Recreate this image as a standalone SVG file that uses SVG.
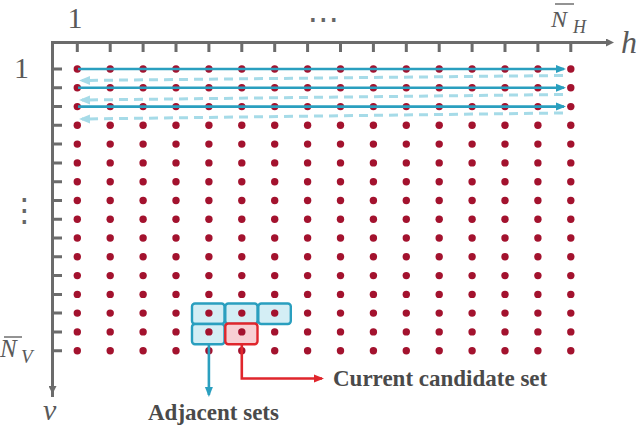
<svg xmlns="http://www.w3.org/2000/svg" width="640" height="428" viewBox="0 0 640 428">
<defs>
<style>
.ax{stroke:#6b6b6b;stroke-width:3;fill:none}
.tk{stroke:#6b6b6b;stroke-width:3}
.dot{fill:#a3122e}
.lab{font-family:"Liberation Serif",serif;fill:#595959}
.sym{font-family:"DejaVu Sans",sans-serif;fill:#666666}
.it{font-style:italic}
.bt{font-family:"Liberation Serif",serif;font-weight:bold;fill:#4a4a4a;font-size:23px}
.sol{stroke:#2a9fbf;stroke-width:2.6;fill:none}
.dsh{stroke:#a6dbe8;stroke-width:3;fill:none;stroke-dasharray:9 6}
.adj{fill:#d4eef5;stroke:#2a9fbf;stroke-width:2.4}
.cur{fill:#f8cfd3;stroke:#e0262c;stroke-width:2.4}
</style>
<marker id="ag" markerWidth="8" markerHeight="8" refX="4" refY="4" orient="auto" markerUnits="userSpaceOnUse" viewBox="0 0 8 8"><path d="M0,0 L8,4 L0,8 Z" fill="#6b6b6b"/></marker>
<marker id="ab" markerWidth="10" markerHeight="10" refX="8" refY="5" orient="auto" markerUnits="userSpaceOnUse" viewBox="0 0 10 10"><path d="M0,1 L10,5 L0,9 Z" fill="#2a9fbf"/></marker>
<marker id="al" markerWidth="11" markerHeight="11" refX="8" refY="5.5" orient="auto" markerUnits="userSpaceOnUse" viewBox="0 0 11 11"><path d="M0,1 L11,5.5 L0,10 Z" fill="#a6dbe8"/></marker>
<marker id="ar" markerWidth="10" markerHeight="10" refX="8" refY="5" orient="auto" markerUnits="userSpaceOnUse" viewBox="0 0 10 10"><path d="M0,1 L10,5 L0,9 Z" fill="#e0262c"/></marker>
</defs>
<rect width="640" height="428" fill="#ffffff"/>

<g id="axes">
<path class="ax" d="M52.5,397 L52.5,42.5 L610,42.5" marker-end="url(#ag)"/>
<path class="ax" d="M52.5,44 L52.5,390" marker-end="url(#ag)"/>
<g class="tk">
<path d="M77.3,43 V52 M110.2,43 V52 M143.1,43 V52 M176,43 V52 M208.9,43 V52 M241.8,43 V52 M274.7,43 V52 M307.6,43 V52 M340.5,43 V52 M373.4,43 V52 M406.3,43 V52 M439.2,43 V52 M472.1,43 V52 M505,43 V52 M537.9,43 V52 M570.8,43 V52"/>
<path d="M52,69 H62 M52,87.8 H62 M52,106.6 H62 M52,125.3 H62 M52,144.1 H62 M52,162.9 H62 M52,181.7 H62 M52,200.5 H62 M52,219.2 H62 M52,238 H62 M52,256.8 H62 M52,275.6 H62 M52,294.4 H62 M52,313.1 H62 M52,331.9 H62 M52,350.7 H62"/>
</g>
<text class="lab" x="75" y="28" font-size="30" text-anchor="middle">1</text>
<text class="lab" x="21.5" y="78" font-size="30" text-anchor="middle">1</text>
<text class="sym" x="323.5" y="30" font-size="32" text-anchor="middle">⋯</text>
<text class="sym" x="24.5" y="221" font-size="32" text-anchor="middle">⋮</text>
<text class="lab it" x="551" y="27" font-size="24">N</text>
<line x1="555" y1="4" x2="574" y2="4" stroke="#595959" stroke-width="1.3"/>
<text class="lab it" x="573" y="33" font-size="18">H</text>
<text class="lab it" x="621" y="53" font-size="32">h</text>
<text class="lab it" x="0" y="357" font-size="25">N</text>
<line x1="4" y1="337" x2="22" y2="337" stroke="#595959" stroke-width="1.3"/>
<text class="lab it" x="21" y="363" font-size="19">V</text>
<text class="lab it" x="43" y="420" font-size="30">v</text>
</g>

<g id="sets">
<rect class="adj" x="192" y="303.5" width="32.5" height="20.5" rx="3"/>
<rect class="adj" x="225.3" y="303.5" width="32.2" height="20.5" rx="3"/>
<rect class="adj" x="258.3" y="303.5" width="32.5" height="20.5" rx="3"/>
<rect class="adj" x="192" y="324" width="32.5" height="20.3" rx="3"/>
<rect class="cur" x="225.3" y="323.5" width="32.2" height="20.8" rx="3"/>
</g>

<g id="grid">
<g class="dot">
<circle cx="77.3" cy="69" r="3.7"/><circle cx="110.2" cy="69" r="3.7"/><circle cx="143.1" cy="69" r="3.7"/><circle cx="176" cy="69" r="3.7"/><circle cx="208.9" cy="69" r="3.7"/><circle cx="241.8" cy="69" r="3.7"/><circle cx="274.7" cy="69" r="3.7"/><circle cx="307.6" cy="69" r="3.7"/><circle cx="340.5" cy="69" r="3.7"/><circle cx="373.4" cy="69" r="3.7"/><circle cx="406.3" cy="69" r="3.7"/><circle cx="439.2" cy="69" r="3.7"/><circle cx="472.1" cy="69" r="3.7"/><circle cx="505" cy="69" r="3.7"/><circle cx="537.9" cy="69" r="3.7"/><circle cx="570.8" cy="69" r="3.7"/>
<circle cx="77.3" cy="87.8" r="3.7"/><circle cx="110.2" cy="87.8" r="3.7"/><circle cx="143.1" cy="87.8" r="3.7"/><circle cx="176" cy="87.8" r="3.7"/><circle cx="208.9" cy="87.8" r="3.7"/><circle cx="241.8" cy="87.8" r="3.7"/><circle cx="274.7" cy="87.8" r="3.7"/><circle cx="307.6" cy="87.8" r="3.7"/><circle cx="340.5" cy="87.8" r="3.7"/><circle cx="373.4" cy="87.8" r="3.7"/><circle cx="406.3" cy="87.8" r="3.7"/><circle cx="439.2" cy="87.8" r="3.7"/><circle cx="472.1" cy="87.8" r="3.7"/><circle cx="505" cy="87.8" r="3.7"/><circle cx="537.9" cy="87.8" r="3.7"/><circle cx="570.8" cy="87.8" r="3.7"/>
<circle cx="77.3" cy="106.6" r="3.7"/><circle cx="110.2" cy="106.6" r="3.7"/><circle cx="143.1" cy="106.6" r="3.7"/><circle cx="176" cy="106.6" r="3.7"/><circle cx="208.9" cy="106.6" r="3.7"/><circle cx="241.8" cy="106.6" r="3.7"/><circle cx="274.7" cy="106.6" r="3.7"/><circle cx="307.6" cy="106.6" r="3.7"/><circle cx="340.5" cy="106.6" r="3.7"/><circle cx="373.4" cy="106.6" r="3.7"/><circle cx="406.3" cy="106.6" r="3.7"/><circle cx="439.2" cy="106.6" r="3.7"/><circle cx="472.1" cy="106.6" r="3.7"/><circle cx="505" cy="106.6" r="3.7"/><circle cx="537.9" cy="106.6" r="3.7"/><circle cx="570.8" cy="106.6" r="3.7"/>
<circle cx="77.3" cy="125.3" r="3.7"/><circle cx="110.2" cy="125.3" r="3.7"/><circle cx="143.1" cy="125.3" r="3.7"/><circle cx="176" cy="125.3" r="3.7"/><circle cx="208.9" cy="125.3" r="3.7"/><circle cx="241.8" cy="125.3" r="3.7"/><circle cx="274.7" cy="125.3" r="3.7"/><circle cx="307.6" cy="125.3" r="3.7"/><circle cx="340.5" cy="125.3" r="3.7"/><circle cx="373.4" cy="125.3" r="3.7"/><circle cx="406.3" cy="125.3" r="3.7"/><circle cx="439.2" cy="125.3" r="3.7"/><circle cx="472.1" cy="125.3" r="3.7"/><circle cx="505" cy="125.3" r="3.7"/><circle cx="537.9" cy="125.3" r="3.7"/><circle cx="570.8" cy="125.3" r="3.7"/>
<circle cx="77.3" cy="144.1" r="3.7"/><circle cx="110.2" cy="144.1" r="3.7"/><circle cx="143.1" cy="144.1" r="3.7"/><circle cx="176" cy="144.1" r="3.7"/><circle cx="208.9" cy="144.1" r="3.7"/><circle cx="241.8" cy="144.1" r="3.7"/><circle cx="274.7" cy="144.1" r="3.7"/><circle cx="307.6" cy="144.1" r="3.7"/><circle cx="340.5" cy="144.1" r="3.7"/><circle cx="373.4" cy="144.1" r="3.7"/><circle cx="406.3" cy="144.1" r="3.7"/><circle cx="439.2" cy="144.1" r="3.7"/><circle cx="472.1" cy="144.1" r="3.7"/><circle cx="505" cy="144.1" r="3.7"/><circle cx="537.9" cy="144.1" r="3.7"/><circle cx="570.8" cy="144.1" r="3.7"/>
<circle cx="77.3" cy="162.9" r="3.7"/><circle cx="110.2" cy="162.9" r="3.7"/><circle cx="143.1" cy="162.9" r="3.7"/><circle cx="176" cy="162.9" r="3.7"/><circle cx="208.9" cy="162.9" r="3.7"/><circle cx="241.8" cy="162.9" r="3.7"/><circle cx="274.7" cy="162.9" r="3.7"/><circle cx="307.6" cy="162.9" r="3.7"/><circle cx="340.5" cy="162.9" r="3.7"/><circle cx="373.4" cy="162.9" r="3.7"/><circle cx="406.3" cy="162.9" r="3.7"/><circle cx="439.2" cy="162.9" r="3.7"/><circle cx="472.1" cy="162.9" r="3.7"/><circle cx="505" cy="162.9" r="3.7"/><circle cx="537.9" cy="162.9" r="3.7"/><circle cx="570.8" cy="162.9" r="3.7"/>
<circle cx="77.3" cy="181.7" r="3.7"/><circle cx="110.2" cy="181.7" r="3.7"/><circle cx="143.1" cy="181.7" r="3.7"/><circle cx="176" cy="181.7" r="3.7"/><circle cx="208.9" cy="181.7" r="3.7"/><circle cx="241.8" cy="181.7" r="3.7"/><circle cx="274.7" cy="181.7" r="3.7"/><circle cx="307.6" cy="181.7" r="3.7"/><circle cx="340.5" cy="181.7" r="3.7"/><circle cx="373.4" cy="181.7" r="3.7"/><circle cx="406.3" cy="181.7" r="3.7"/><circle cx="439.2" cy="181.7" r="3.7"/><circle cx="472.1" cy="181.7" r="3.7"/><circle cx="505" cy="181.7" r="3.7"/><circle cx="537.9" cy="181.7" r="3.7"/><circle cx="570.8" cy="181.7" r="3.7"/>
<circle cx="77.3" cy="200.5" r="3.7"/><circle cx="110.2" cy="200.5" r="3.7"/><circle cx="143.1" cy="200.5" r="3.7"/><circle cx="176" cy="200.5" r="3.7"/><circle cx="208.9" cy="200.5" r="3.7"/><circle cx="241.8" cy="200.5" r="3.7"/><circle cx="274.7" cy="200.5" r="3.7"/><circle cx="307.6" cy="200.5" r="3.7"/><circle cx="340.5" cy="200.5" r="3.7"/><circle cx="373.4" cy="200.5" r="3.7"/><circle cx="406.3" cy="200.5" r="3.7"/><circle cx="439.2" cy="200.5" r="3.7"/><circle cx="472.1" cy="200.5" r="3.7"/><circle cx="505" cy="200.5" r="3.7"/><circle cx="537.9" cy="200.5" r="3.7"/><circle cx="570.8" cy="200.5" r="3.7"/>
<circle cx="77.3" cy="219.2" r="3.7"/><circle cx="110.2" cy="219.2" r="3.7"/><circle cx="143.1" cy="219.2" r="3.7"/><circle cx="176" cy="219.2" r="3.7"/><circle cx="208.9" cy="219.2" r="3.7"/><circle cx="241.8" cy="219.2" r="3.7"/><circle cx="274.7" cy="219.2" r="3.7"/><circle cx="307.6" cy="219.2" r="3.7"/><circle cx="340.5" cy="219.2" r="3.7"/><circle cx="373.4" cy="219.2" r="3.7"/><circle cx="406.3" cy="219.2" r="3.7"/><circle cx="439.2" cy="219.2" r="3.7"/><circle cx="472.1" cy="219.2" r="3.7"/><circle cx="505" cy="219.2" r="3.7"/><circle cx="537.9" cy="219.2" r="3.7"/><circle cx="570.8" cy="219.2" r="3.7"/>
<circle cx="77.3" cy="238" r="3.7"/><circle cx="110.2" cy="238" r="3.7"/><circle cx="143.1" cy="238" r="3.7"/><circle cx="176" cy="238" r="3.7"/><circle cx="208.9" cy="238" r="3.7"/><circle cx="241.8" cy="238" r="3.7"/><circle cx="274.7" cy="238" r="3.7"/><circle cx="307.6" cy="238" r="3.7"/><circle cx="340.5" cy="238" r="3.7"/><circle cx="373.4" cy="238" r="3.7"/><circle cx="406.3" cy="238" r="3.7"/><circle cx="439.2" cy="238" r="3.7"/><circle cx="472.1" cy="238" r="3.7"/><circle cx="505" cy="238" r="3.7"/><circle cx="537.9" cy="238" r="3.7"/><circle cx="570.8" cy="238" r="3.7"/>
<circle cx="77.3" cy="256.8" r="3.7"/><circle cx="110.2" cy="256.8" r="3.7"/><circle cx="143.1" cy="256.8" r="3.7"/><circle cx="176" cy="256.8" r="3.7"/><circle cx="208.9" cy="256.8" r="3.7"/><circle cx="241.8" cy="256.8" r="3.7"/><circle cx="274.7" cy="256.8" r="3.7"/><circle cx="307.6" cy="256.8" r="3.7"/><circle cx="340.5" cy="256.8" r="3.7"/><circle cx="373.4" cy="256.8" r="3.7"/><circle cx="406.3" cy="256.8" r="3.7"/><circle cx="439.2" cy="256.8" r="3.7"/><circle cx="472.1" cy="256.8" r="3.7"/><circle cx="505" cy="256.8" r="3.7"/><circle cx="537.9" cy="256.8" r="3.7"/><circle cx="570.8" cy="256.8" r="3.7"/>
<circle cx="77.3" cy="275.6" r="3.7"/><circle cx="110.2" cy="275.6" r="3.7"/><circle cx="143.1" cy="275.6" r="3.7"/><circle cx="176" cy="275.6" r="3.7"/><circle cx="208.9" cy="275.6" r="3.7"/><circle cx="241.8" cy="275.6" r="3.7"/><circle cx="274.7" cy="275.6" r="3.7"/><circle cx="307.6" cy="275.6" r="3.7"/><circle cx="340.5" cy="275.6" r="3.7"/><circle cx="373.4" cy="275.6" r="3.7"/><circle cx="406.3" cy="275.6" r="3.7"/><circle cx="439.2" cy="275.6" r="3.7"/><circle cx="472.1" cy="275.6" r="3.7"/><circle cx="505" cy="275.6" r="3.7"/><circle cx="537.9" cy="275.6" r="3.7"/><circle cx="570.8" cy="275.6" r="3.7"/>
<circle cx="77.3" cy="294.4" r="3.7"/><circle cx="110.2" cy="294.4" r="3.7"/><circle cx="143.1" cy="294.4" r="3.7"/><circle cx="176" cy="294.4" r="3.7"/><circle cx="208.9" cy="294.4" r="3.7"/><circle cx="241.8" cy="294.4" r="3.7"/><circle cx="274.7" cy="294.4" r="3.7"/><circle cx="307.6" cy="294.4" r="3.7"/><circle cx="340.5" cy="294.4" r="3.7"/><circle cx="373.4" cy="294.4" r="3.7"/><circle cx="406.3" cy="294.4" r="3.7"/><circle cx="439.2" cy="294.4" r="3.7"/><circle cx="472.1" cy="294.4" r="3.7"/><circle cx="505" cy="294.4" r="3.7"/><circle cx="537.9" cy="294.4" r="3.7"/><circle cx="570.8" cy="294.4" r="3.7"/>
<circle cx="77.3" cy="313.1" r="3.7"/><circle cx="110.2" cy="313.1" r="3.7"/><circle cx="143.1" cy="313.1" r="3.7"/><circle cx="176" cy="313.1" r="3.7"/><circle cx="208.9" cy="313.1" r="3.7"/><circle cx="241.8" cy="313.1" r="3.7"/><circle cx="274.7" cy="313.1" r="3.7"/><circle cx="307.6" cy="313.1" r="3.7"/><circle cx="340.5" cy="313.1" r="3.7"/><circle cx="373.4" cy="313.1" r="3.7"/><circle cx="406.3" cy="313.1" r="3.7"/><circle cx="439.2" cy="313.1" r="3.7"/><circle cx="472.1" cy="313.1" r="3.7"/><circle cx="505" cy="313.1" r="3.7"/><circle cx="537.9" cy="313.1" r="3.7"/><circle cx="570.8" cy="313.1" r="3.7"/>
<circle cx="77.3" cy="331.9" r="3.7"/><circle cx="110.2" cy="331.9" r="3.7"/><circle cx="143.1" cy="331.9" r="3.7"/><circle cx="176" cy="331.9" r="3.7"/><circle cx="208.9" cy="331.9" r="3.7"/><circle cx="241.8" cy="331.9" r="3.7"/><circle cx="274.7" cy="331.9" r="3.7"/><circle cx="307.6" cy="331.9" r="3.7"/><circle cx="340.5" cy="331.9" r="3.7"/><circle cx="373.4" cy="331.9" r="3.7"/><circle cx="406.3" cy="331.9" r="3.7"/><circle cx="439.2" cy="331.9" r="3.7"/><circle cx="472.1" cy="331.9" r="3.7"/><circle cx="505" cy="331.9" r="3.7"/><circle cx="537.9" cy="331.9" r="3.7"/><circle cx="570.8" cy="331.9" r="3.7"/>
<circle cx="77.3" cy="350.7" r="3.7"/><circle cx="110.2" cy="350.7" r="3.7"/><circle cx="143.1" cy="350.7" r="3.7"/><circle cx="176" cy="350.7" r="3.7"/><circle cx="208.9" cy="350.7" r="3.7"/><circle cx="241.8" cy="350.7" r="3.7"/><circle cx="274.7" cy="350.7" r="3.7"/><circle cx="307.6" cy="350.7" r="3.7"/><circle cx="340.5" cy="350.7" r="3.7"/><circle cx="373.4" cy="350.7" r="3.7"/><circle cx="406.3" cy="350.7" r="3.7"/><circle cx="439.2" cy="350.7" r="3.7"/><circle cx="472.1" cy="350.7" r="3.7"/><circle cx="505" cy="350.7" r="3.7"/><circle cx="537.9" cy="350.7" r="3.7"/><circle cx="570.8" cy="350.7" r="3.7"/>
</g>
</g>

<g id="connectors">
<path class="dsh" d="M563,75.5 L82,80.5" marker-end="url(#al)"/>
<path class="dsh" d="M563,94.5 L82,100" marker-end="url(#al)"/>
<path class="dsh" d="M563,113 L82,119" marker-end="url(#al)"/>
<path class="sol" d="M78,69 L564,69" marker-end="url(#ab)"/>
<path class="sol" d="M78,87.8 L564,87.8" marker-end="url(#ab)"/>
<path class="sol" d="M78,106.6 L564,106.6" marker-end="url(#ab)"/>
<path class="sol" d="M208.9,344.5 L208.9,395" marker-end="url(#ab)"/>
<path d="M241.8,344.5 L241.8,378.5 L322,378.5" fill="none" stroke="#e0262c" stroke-width="2.6" marker-end="url(#ar)"/>
</g>

<g id="labels">
<text class="bt" x="333" y="386">Current candidate set</text>
<text class="bt" x="148" y="420">Adjacent sets</text>
</g>
</svg>
